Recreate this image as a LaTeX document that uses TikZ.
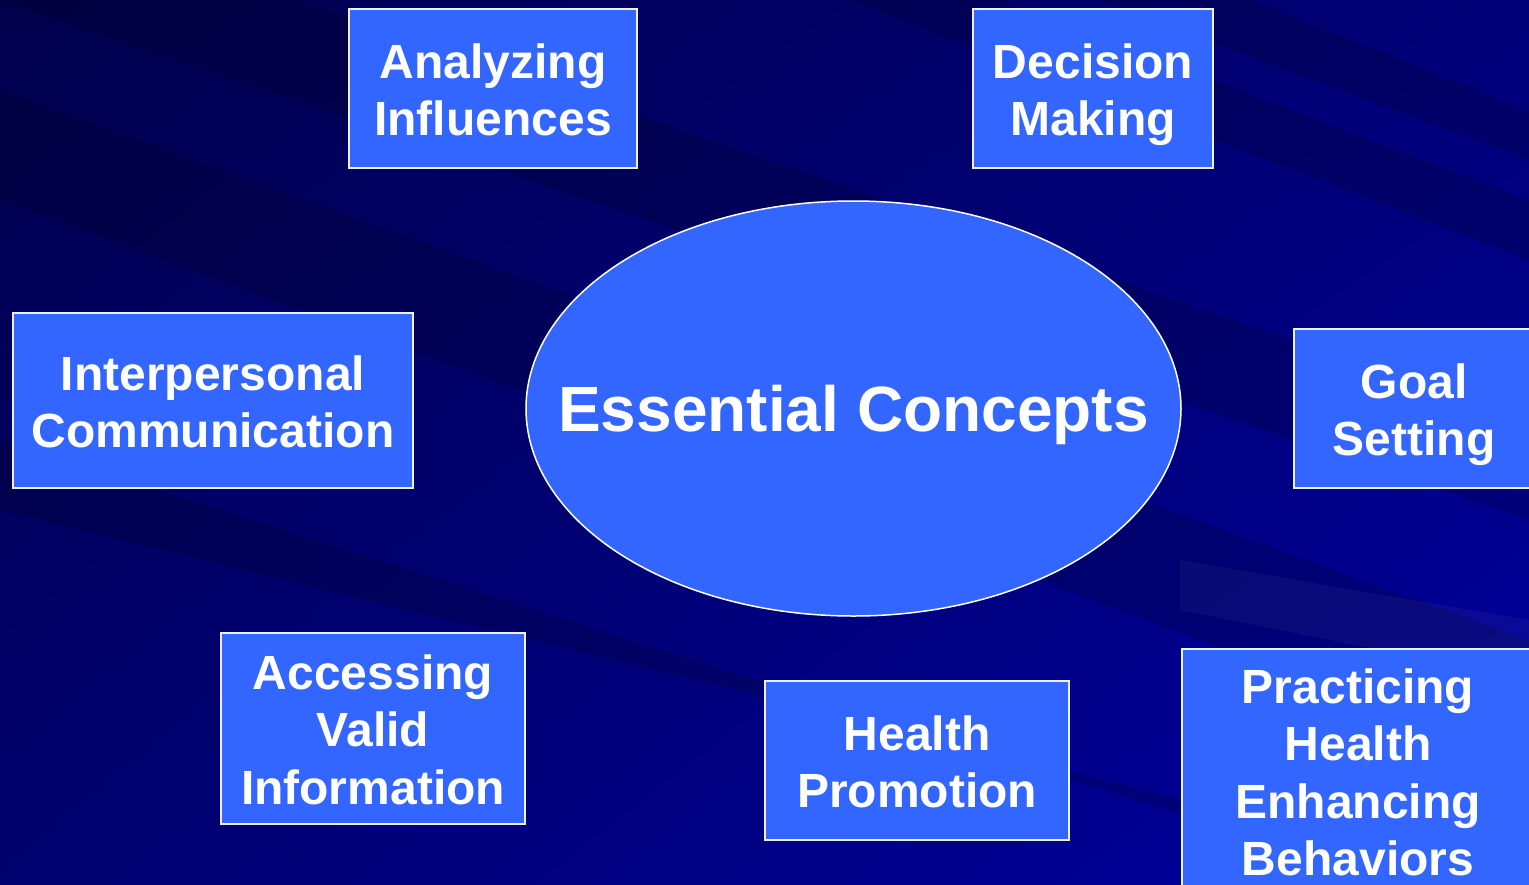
\documentclass[tikz,border=0pt]{standalone}
\usepackage{fontspec}
\setmainfont{Liberation Sans}
\usetikzlibrary{shapes.geometric,shadings}
\definecolor{boxblue}{HTML}{3366FF}
\definecolor{bgA}{HTML}{00004C}
\definecolor{bgB}{HTML}{000078}
\definecolor{bgC}{HTML}{00006E}
\definecolor{bgD}{HTML}{0000A0}
\newcommand\lst{\vphantom{Alg}}
\newcommand\fst{\rule{0pt}{47pt}}
\begin{document}
\begin{tikzpicture}[x=1pt,y=-1pt,
  box/.style={draw=white!88!gray, line width=1.5pt, fill=boxblue, text=white,
    align=center, font=\fontsize{48}{57.5}\selectfont\bfseries, inner sep=0pt},
  darkband/.style={fill=black, opacity=0.16},
  lightband/.style={fill=white, opacity=0.04}]
\useasboundingbox (0,0) rectangle (1529,884);
\clip (0,0) rectangle (1529,884);
% background
\shade[upper left=bgA, upper right=bgB, lower left=bgC, lower right=bgD] (0,0) rectangle (1529,884);
\fill[darkband] (0,0) -- (300,0) -- (1529,420) -- (1529,520) -- cycle;
\fill[darkband] (0,90) -- (0,200) -- (1529,760) -- (1529,640) -- cycle;
\fill[darkband] (0,440) -- (0,510) -- (1529,884) -- (1400,884) -- cycle;
\fill[darkband] (850,0) -- (1000,0) -- (1529,200) -- (1529,260) -- cycle;
\fill[darkband] (1100,0) -- (1250,0) -- (1529,110) -- (1529,160) -- cycle;
\fill[lightband] (1180,560) -- (1529,620) -- (1529,680) -- (1180,610) -- cycle;
% central ellipse
\node[ellipse, draw=white, line width=1.5pt, fill=boxblue,
  minimum width=655pt, minimum height=415pt, inner sep=0pt] (ec) at (853.5,408.5) {};
\node[text=white, inner sep=0pt, font=\fontsize{64}{70}\selectfont\bfseries]
  (ect) at ([yshift=-7pt]ec.center) {\lst Essential Concepts};
% boxes
\node[box, minimum width=288pt, minimum height=159pt] (ai) at (493,88.5) {\fst Analyzing\\Influences\lst};
\node[box, minimum width=240pt, minimum height=159pt] (dm) at (1093,88.5) {\fst Decision\\Making\lst};
\node[box, minimum width=400pt, minimum height=175pt] (ic) at (213,400.5) {\fst Interpersonal\\Communication\lst};
\node[box, minimum width=240pt, minimum height=159pt] (gs) at (1414,408.5) {\fst Goal\\Setting\lst};
\node[box, minimum width=304pt, minimum height=191pt] (av) at (373,728.5) {\fst Accessing\\Valid\\Information\lst};
\node[box, minimum width=304pt, minimum height=159pt] (hp) at (917,760.5) {\fst Health\\Promotion\lst};
\node[box, minimum width=352pt, minimum height=244pt] (ph) at (1358,771) {\fst Practicing\\Health\\Enhancing\\Behaviors\lst};
\end{tikzpicture}
\end{document}
